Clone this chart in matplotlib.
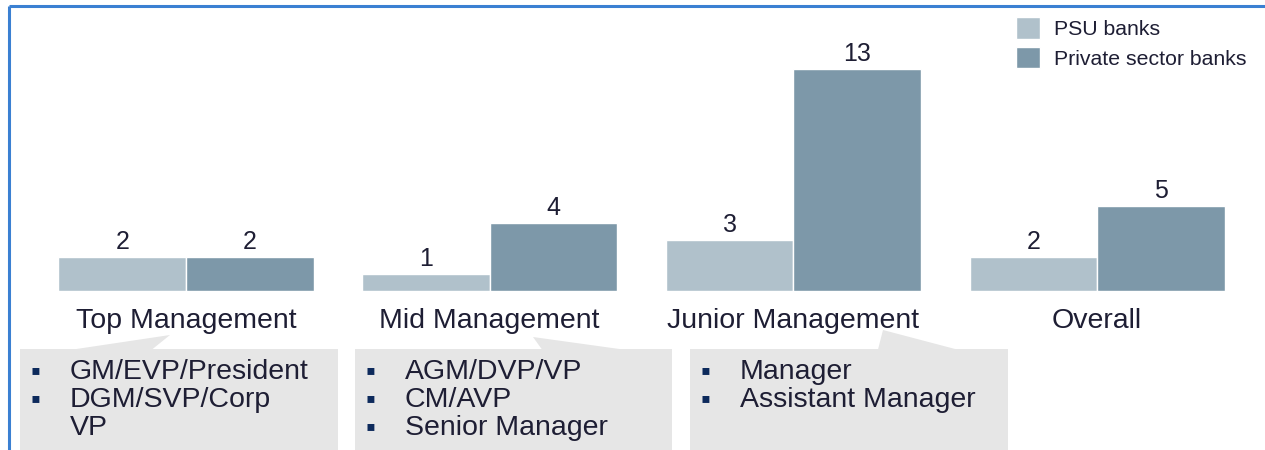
import matplotlib
matplotlib.use('Agg')

import numpy as np
import matplotlib.pyplot as plt
from matplotlib.patches import Polygon, Rectangle

plt.rcParams['font.family'] = ['Liberation Sans', 'DejaVu Sans']

# data
categories = ['Top Management', 'Mid Management', 'Junior Management', 'Overall']
psu_banks = [2, 1, 3, 2]
private_banks = [2, 4, 13, 5]
series_names = ['PSU banks', 'Private sector banks']

roles = [
    ['GM/EVP/President', 'DGM/SVP/Corp', 'VP'],
    ['AGM/DVP/VP', 'CM/AVP', 'Senior Manager'],
    ['Manager', 'Assistant Manager'],
]
# which role lines get a bullet (wrapped lines don't)
role_bullets = [
    [True, True, False],
    [True, True, True],
    [True, True],
]

PSU_COLOR = '#b0c1cb'
PRIV_COLOR = '#7d98a9'
TEXT_COLOR = '#1e1e34'

W, H = 1265, 450
fig = plt.figure(figsize=(W / 100, H / 100), dpi=100)

# overlay in pixel space for frame + callout boxes
over = fig.add_axes([0, 0, 1, 1])
over.set_xlim(0, W)
over.set_ylim(H, 0)
over.axis('off')

over.plot([9, W], [6, 6], color='#3b80d2', lw=2.2, solid_capstyle='butt')
over.plot([9, 9], [6, H], color='#3b80d2', lw=2.2, solid_capstyle='butt')

box_specs = [
    # x0, x1, apex, left base, right base
    (20, 338, (170, 335), 73, 152),
    (355, 672, (533, 337), 542, 623),
    (690, 1008, (883, 330), 878, 957),
]
for (x0, x1, apex, bl, br), lines, bullets in zip(box_specs, roles, role_bullets):
    over.add_patch(Rectangle((x0, 349), x1 - x0, H - 349, facecolor='#e6e6e6',
                             edgecolor='none'))
    over.add_patch(Polygon([(bl, 349.5), apex, (br, 349.5)], closed=True,
                           facecolor='#e6e6e6', edgecolor='none'))
    for i, (txt, b) in enumerate(zip(lines, bullets)):
        y = 372 + i * 28
        if b:
            over.text(x0 + 15, y, '\u25aa', color='#0d2a5c', fontsize=20,
                      va='center', ha='center')
        over.text(x0 + 50, y, txt, color=TEXT_COLOR, fontsize=20.5,
                  va='center', ha='left')

# bar axes
ax = fig.add_axes([0, (H - 291) / H, 1, (291 - 69) / H])
x = np.arange(len(categories))
bw = 0.42
b1 = ax.bar(x - bw / 2, psu_banks, bw, color=PSU_COLOR, edgecolor='white',
            linewidth=1, label=series_names[0])
b2 = ax.bar(x + bw / 2, private_banks, bw, color=PRIV_COLOR, edgecolor='white',
            linewidth=1, label=series_names[1])
ax.bar_label(b1, padding=2, fontsize=18, color=TEXT_COLOR)
ax.bar_label(b2, padding=2, fontsize=18, color=TEXT_COLOR)

# map data units onto the pixel layout
unit = 303.7
ax.set_xlim(-186 / unit, (W - 186) / unit)
ax.set_ylim(0, 13)
ax.set_xticks(x)
ax.set_xticklabels(categories, fontsize=20.5, color=TEXT_COLOR)
ax.tick_params(axis='x', length=0, pad=12.5)
ax.set_yticks([])
for s in ax.spines.values():
    s.set_visible(False)
ax.patch.set_alpha(0)

fig.legend(handles=[b1, b2], loc='upper left',
           bbox_to_anchor=(997 / W, 1 + 2 / H), frameon=False,
           fontsize=15.3, handlelength=1.1, handleheight=1.2,
           handletextpad=0.7, labelspacing=0.35, labelcolor=TEXT_COLOR)

fig.savefig('out.png', dpi=100)
plt.close(fig)
